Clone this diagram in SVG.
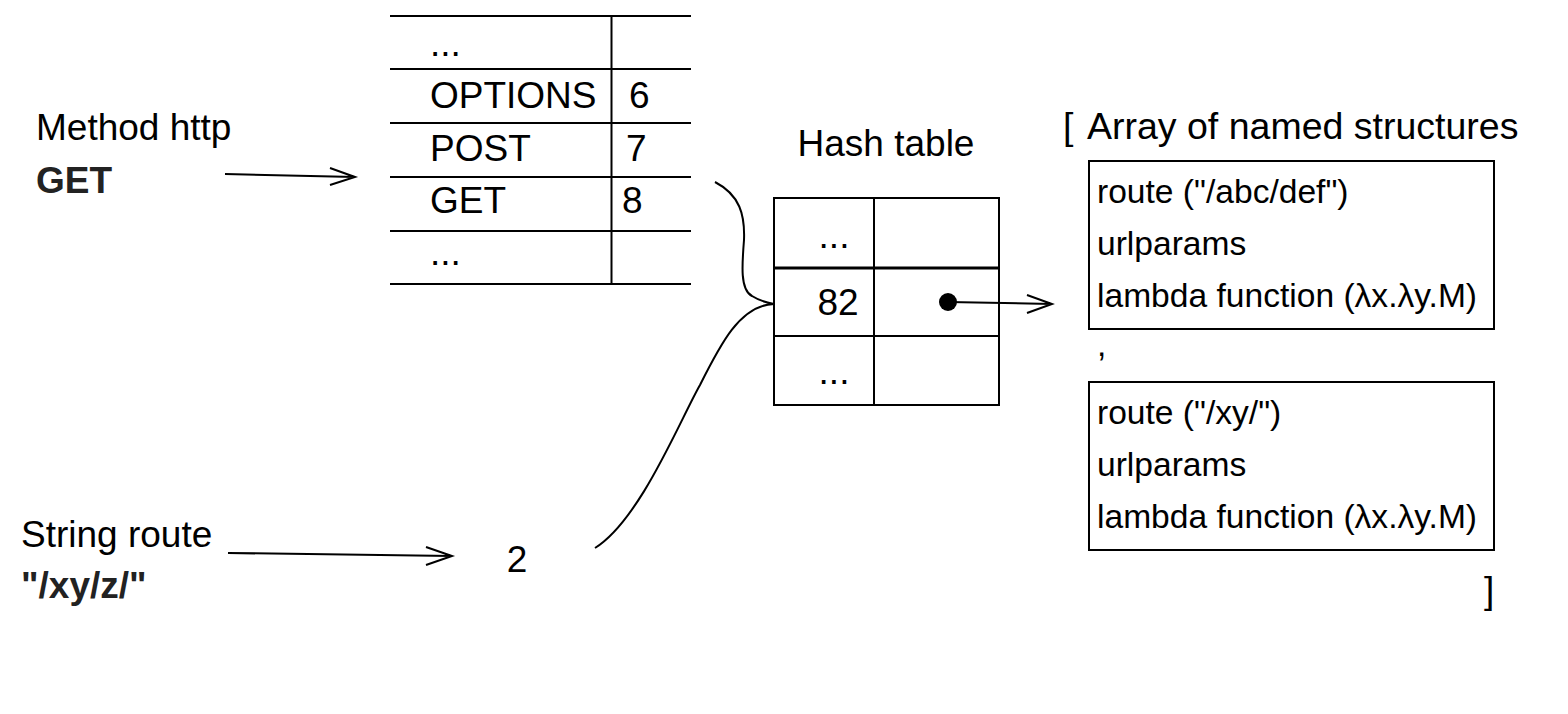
<svg xmlns="http://www.w3.org/2000/svg" width="1568" height="714" viewBox="0 0 1568 714">
<style>
.t{font-family:"Liberation Sans",Arial,sans-serif;font-size:37px;fill:#000}
.a{font-size:37.5px}
.s{font-family:"Liberation Sans",Arial,sans-serif;font-size:33.6px;fill:#000}
.b{font-weight:bold;fill:#222}
.ln{stroke:#000;stroke-width:2;fill:none}
.cn{stroke:#000;stroke-width:2;fill:none}
</style>
<rect width="1568" height="714" fill="#fff"/>
<g id="method-label">
<text class="t" x="36" y="140">Method http</text>
<text class="t b" x="36" y="193">GET</text>
</g>
<g id="route-label">
<text class="t" x="21" y="547">String route</text>
<text class="t b" x="21" y="598">"/xy/z/"</text>
</g>
<g id="method-table">
<path class="ln" d="M390 16H691M390 69H691M390 123H691M390 177H691M390 231H691M390 284H691M611.5 16V284"/>
<text class="t" x="430" y="56">...</text>
<text class="t" x="430" y="108">OPTIONS</text>
<text class="t" x="629" y="108">6</text>
<text class="t" x="430" y="161">POST</text>
<text class="t" x="626" y="161">7</text>
<text class="t" x="430" y="213">GET</text>
<text class="t" x="622" y="213">8</text>
<text class="t" x="430" y="265">...</text>
</g>
<g id="hash-value">
<text class="t" x="517" y="572" text-anchor="middle">2</text>
</g>
<g id="hash-table">
<text class="t" x="886" y="156" text-anchor="middle">Hash table</text>
<rect class="ln" x="774" y="198" width="225" height="207"/>
<path class="ln" d="M774 336H999M874 198V405"/>
<path stroke="#000" stroke-width="3" d="M774 268H999"/>
<text class="t" x="834" y="248" text-anchor="middle">...</text>
<text class="t" x="838" y="315" text-anchor="middle">82</text>
<text class="t" x="834" y="384" text-anchor="middle">...</text>
<circle cx="948" cy="302" r="9" fill="#000"/>
</g>
<g id="array">
<text class="t a" x="1063" y="139">[</text>
<text class="t a" x="1087" y="139">Array of named structures</text>
<rect class="ln" x="1089" y="161" width="405" height="168"/>
<text class="s" x="1097" y="203">route ("/abc/def")</text>
<text class="s" x="1097" y="255">urlparams</text>
<text class="s" x="1097" y="307">lambda function (λx.λy.M)</text>
<text class="s" x="1097" y="356">,</text>
<rect class="ln" x="1089" y="382" width="405" height="168"/>
<text class="s" x="1097" y="424">route ("/xy/")</text>
<text class="s" x="1097" y="476">urlparams</text>
<text class="s" x="1097" y="528">lambda function (λx.λy.M)</text>
<text class="t" x="1484" y="603">]</text>
</g>
<g id="connectors">
<path class="cn" d="M225 174L355 177M330 168L355 177L330 185"/>
<path class="cn" d="M228 553L452 556M426 547L452 556L426 565"/>
<path class="cn" d="M948 302L1052 304M1027 295L1052 304L1027 313"/>
<path class="cn" d="M715 182C740 195 745 215 744 240C742 265 740 290 752 296C760 301 768 303 774 304"/>
<path class="cn" d="M595 548C640 520 680 420 700 385C720 345 740 305 774 304"/>
</g>
</svg>
